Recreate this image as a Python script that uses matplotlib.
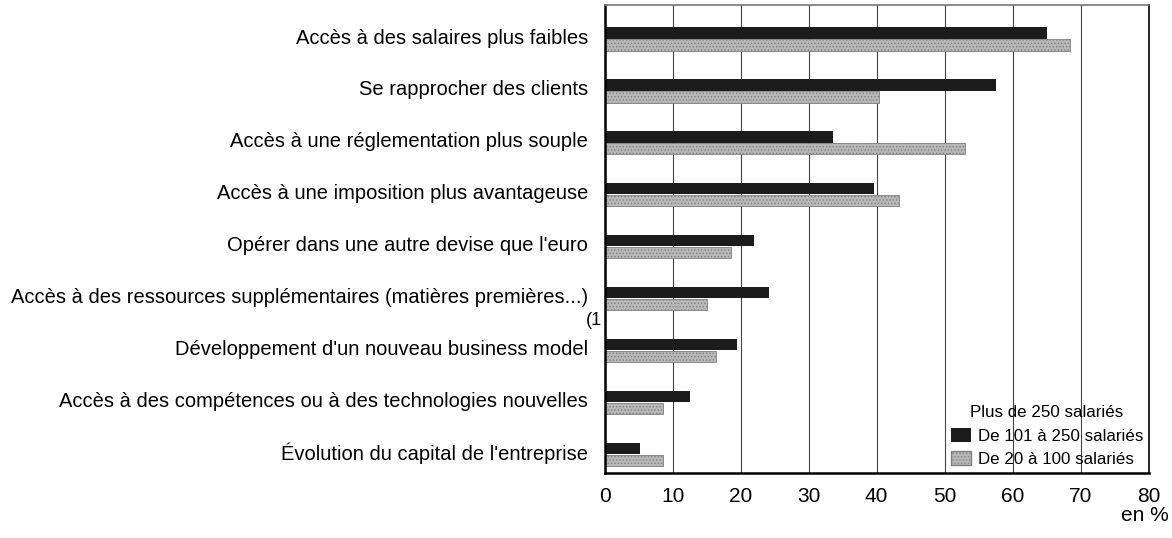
import matplotlib
matplotlib.use('Agg')
import matplotlib.pyplot as plt
from matplotlib.patches import Patch
import numpy as np

plt.rcParams['font.family'] = ['Liberation Sans', 'DejaVu Sans']
plt.rcParams['hatch.linewidth'] = 0.6

categories = [
    u"Accès à des salaires plus faibles",
    u"Se rapprocher des clients",
    u"Accès à une réglementation plus souple",
    u"Accès à une imposition plus avantageuse",
    u"Opérer dans une autre devise que l'euro",
    u"Accès à des ressources supplémentaires (matières premières...)",
    u"Développement d'un nouveau business model",
    u"Accès à des compétences ou à des technologies nouvelles",
    u"Évolution du capital de l'entreprise",
]
de_101_250 = [65.0, 57.5, 33.6, 39.6, 22.0, 24.1, 19.5, 12.5, 5.2]
de_20_100 = [68.5, 40.3, 53.0, 43.3, 18.5, 15.0, 16.4, 8.6, 8.5]
xticks = [0, 10, 20, 30, 40, 50, 60, 70, 80]

y = np.arange(len(categories))
h = 0.22

fig = plt.figure(figsize=(11.72, 5.38), dpi=100)
fig.patch.set_facecolor('white')
ax = fig.add_axes([0.516, 0.121, 0.464, 0.869])

# lignes verticales de la grille
for xv in xticks[1:-1]:
    ax.axvline(xv, color='#444444', lw=0.8, zorder=0)

ax.barh(y + 0.08, de_101_250, height=h, color='#1c1c1c', zorder=2)
ax.barh(y + 0.31, de_20_100, height=h, facecolor='#b8b8b8',
        edgecolor='#808080', hatch='.....', lw=0.6, zorder=2)

ax.set_xlim(0, 80)
ax.set_ylim(len(categories) - 0.45, -0.45)
ax.set_xticks(xticks)
ax.set_xticklabels([str(v) for v in xticks], fontsize=15)
ax.set_yticks(y + 0.14)
ax.set_yticklabels(categories, fontsize=14.5)
ax.tick_params(axis='y', length=0, pad=12)
ax.tick_params(axis='x', length=0, pad=10)

for s in ['left', 'bottom']:
    ax.spines[s].set_linewidth(1.8)
ax.spines['right'].set_linewidth(1.2)
ax.spines['top'].set_linewidth(1.2)
ax.spines['top'].set_color('#777777')

fig.text(0.9975, 0.025, 'en %', fontsize=15, ha='right', va='bottom')
fig.text(0.514, 0.405, '(1', fontsize=13, ha='right', va='center')

handles = [Patch(facecolor='#1c1c1c'),
           Patch(facecolor='#b8b8b8', edgecolor='#808080', hatch='.....')]
leg = ax.legend(handles, [u"De 101 à 250 salariés", u"De 20 à 100 salariés"],
                title=u"Plus de 250 salariés", loc='lower right',
                bbox_to_anchor=(0.99, 0.012), frameon=False, fontsize=12.2,
                title_fontsize=12.2, handlelength=1.2, handleheight=0.9,
                handletextpad=0.4, labelspacing=0.45, borderaxespad=0,
                borderpad=0)

plt.savefig('out.png', dpi=100)
plt.close(fig)
